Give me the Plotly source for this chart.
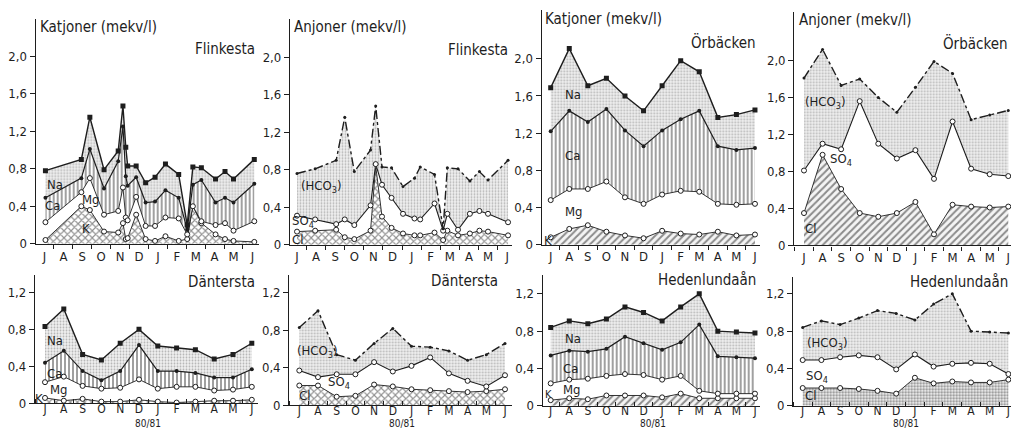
import plotly.graph_objects as go

W, H = 1011, 438
MONTHS = ["J", "A", "S", "O", "N", "D", "J", "F", "M", "A", "M", "J"]
MONTH_POS = list(range(12))
YTICKS_TOP = [0, 0.4, 0.8, 1.2, 1.6, 2.0]
YTICKS_BOT = [0, 0.4, 0.8, 1.2]

# ---------------- Flinkesta (irregular sampling dates, month index) ----------------
FLK_CAT_T = [0.05, 1.95, 2.4, 3.15, 3.9, 4.15, 4.3, 4.4, 4.85, 5.35, 5.85, 6.4, 7.1, 7.55, 7.85, 8.3, 9.05, 9.55, 10.0, 11.1]
FLK_CAT_TOTAL = [0.78, 0.90, 1.35, 0.79, 0.99, 1.47, 1.03, 0.83, 0.83, 0.65, 0.71, 0.85, 0.74, 0.20, 0.82, 0.81, 0.69, 0.77, 0.69, 0.90]
FLK_CAT_CA = [0.49, 0.70, 1.01, 0.59, 0.88, 1.25, 0.72, 0.62, 0.71, 0.44, 0.45, 0.57, 0.49, 0.15, 0.63, 0.68, 0.44, 0.49, 0.44, 0.64]
FLK_CAT_MG = [0.23, 0.55, 0.70, 0.31, 0.35, 0.60, 0.28, 0.25, 0.50, 0.19, 0.19, 0.28, 0.27, 0.10, 0.40, 0.24, 0.20, 0.22, 0.14, 0.24]
FLK_CAT_K = [0.04, 0.40, 0.36, 0.13, 0.12, 0.22, 0.05, 0.06, 0.31, 0.05, 0.03, 0.08, 0.03, 0.05, 0.40, 0.22, 0.10, 0.05, 0.03, 0.02]

FLK_AN_T = [0.0, 0.95, 2.05, 2.5, 3.0, 3.85, 4.12, 4.45, 4.95, 5.55, 6.15, 6.45, 7.2, 7.65, 7.87, 8.43, 9.05, 9.55, 10.0, 11.05]
FLK_AN_TOTAL = [0.76, 0.81, 0.90, 1.36, 0.78, 1.01, 1.48, 0.83, 0.82, 0.62, 0.71, 0.83, 0.75, 0.17, 0.82, 0.81, 0.68, 0.78, 0.69, 0.90]
FLK_AN_SO4 = [0.31, 0.27, 0.22, 0.27, 0.21, 0.42, 0.86, 0.64, 0.50, 0.33, 0.28, 0.27, 0.44, 0.15, 0.33, 0.16, 0.33, 0.36, 0.33, 0.24]
FLK_AN_CL = [0.14, 0.15, 0.16, 0.08, 0.06, 0.15, 0.84, 0.30, 0.18, 0.12, 0.10, 0.10, 0.13, 0.05, 0.15, 0.10, 0.12, 0.15, 0.14, 0.10]

# ---------------- Örbäcken (monthly) ----------------
ORB_CAT_TOTAL = [1.69, 2.11, 1.71, 1.79, 1.60, 1.44, 1.71, 1.98, 1.86, 1.37, 1.40, 1.45]
ORB_CAT_CA = [1.22, 1.44, 1.32, 1.46, 1.23, 1.06, 1.23, 1.35, 1.44, 1.06, 1.02, 1.04]
ORB_CAT_MG = [0.48, 0.60, 0.60, 0.68, 0.51, 0.44, 0.54, 0.58, 0.57, 0.44, 0.43, 0.44]
ORB_CAT_K = [0.08, 0.17, 0.21, 0.14, 0.10, 0.07, 0.15, 0.12, 0.11, 0.14, 0.10, 0.11]

ORB_AN_TOTAL = [1.81, 2.12, 1.73, 1.80, 1.60, 1.44, 1.71, 1.99, 1.86, 1.36, 1.41, 1.46]
ORB_AN_SO4 = [0.81, 1.10, 1.04, 1.56, 1.10, 0.94, 1.03, 0.72, 1.34, 0.83, 0.77, 0.75]
ORB_AN_CL = [0.35, 0.98, 0.61, 0.35, 0.31, 0.35, 0.47, 0.12, 0.44, 0.42, 0.41, 0.42]

# ---------------- Däntersta (monthly) ----------------
DAN_CAT_TOTAL = [0.83, 1.02, 0.53, 0.47, 0.65, 0.80, 0.62, 0.60, 0.58, 0.48, 0.53, 0.65]
DAN_CAT_CA = [0.44, 0.57, 0.35, 0.25, 0.35, 0.63, 0.35, 0.35, 0.33, 0.28, 0.28, 0.37]
DAN_CAT_MG = [0.23, 0.29, 0.19, 0.16, 0.17, 0.26, 0.16, 0.18, 0.18, 0.14, 0.15, 0.18]
DAN_CAT_K = [0.06, 0.03, 0.05, 0.02, 0.02, 0.04, 0.02, 0.01, 0.02, 0.03, 0.03, 0.04]

DAN_AN_TOTAL = [0.83, 1.01, 0.54, 0.48, 0.66, 0.82, 0.63, 0.62, 0.58, 0.48, 0.54, 0.66]
DAN_AN_SO4 = [0.37, 0.30, 0.33, 0.33, 0.46, 0.36, 0.42, 0.51, 0.34, 0.26, 0.20, 0.32]
DAN_AN_CL = [0.21, 0.21, 0.09, 0.10, 0.22, 0.20, 0.17, 0.16, 0.15, 0.14, 0.15, 0.17]

# ---------------- Hedenlundaån (monthly) ----------------
HED_CAT_TOTAL = [0.84, 0.91, 0.88, 0.93, 1.06, 1.00, 0.91, 1.06, 1.20, 0.80, 0.79, 0.78]
HED_CAT_CA = [0.54, 0.59, 0.58, 0.61, 0.74, 0.67, 0.60, 0.68, 0.87, 0.53, 0.52, 0.51]
HED_CAT_MG = [0.24, 0.28, 0.29, 0.32, 0.34, 0.33, 0.28, 0.32, 0.16, 0.13, 0.13, 0.13]
HED_CAT_K = [0.06, 0.08, 0.07, 0.11, 0.11, 0.11, 0.09, 0.13, 0.08, 0.08, 0.08, 0.08]

HED_AN_TOTAL = [0.84, 0.91, 0.87, 0.94, 1.02, 0.99, 0.92, 1.09, 1.20, 0.80, 0.79, 0.78]
HED_AN_SO4 = [0.49, 0.49, 0.52, 0.54, 0.52, 0.39, 0.55, 0.42, 0.45, 0.46, 0.45, 0.34]
HED_AN_CL = [0.19, 0.19, 0.19, 0.18, 0.16, 0.13, 0.30, 0.24, 0.26, 0.25, 0.25, 0.28]

SEASON = "80/81"

FONT = "DejaVu Sans Condensed, Liberation Sans Narrow, Roboto Condensed, DejaVu Sans, sans-serif"
INK = "#1e1e1e"

# panel pixel geometry: (axis_left, x_of_first_month, px_per_month, right, y_zero_px, px_per_unit, axis_top_px)
PANELS = [
    (35.7, 44.5, 18.9, 258.5, 248.3, 95.5, 19),
    (290.0, 297.0, 19.1, 512.0, 249.3, 95.5, 19),
    (541.7, 550.7, 18.57, 760.0, 249.3, 94.7, 10),
    (794.3, 804.0, 18.57, 1011.0, 250.0, 94.2, 12),
    (35.0, 45.0, 18.8, 258.0, 411.0, 94.4, 280),
    (289.3, 299.3, 18.7, 512.0, 412.7, 95.3, 280),
    (542.7, 550.7, 18.57, 760.0, 413.3, 95.0, 280),
    (793.3, 802.7, 18.7, 1011.0, 413.3, 95.0, 282),
]

fig = go.Figure()

STIPPLE = dict(shape=".", fgcolor="#7a7a7a", bgcolor="#efefef", size=3, solidity=0.3)
VHATCH = dict(shape="|", fgcolor="#111111", bgcolor="white", size=4, solidity=0.4)
XHATCH = dict(shape="x", fgcolor="#222222", bgcolor="white", size=5, solidity=0.4)
DHATCH = dict(shape="/", fgcolor="#222222", bgcolor="#f4f4f4", size=5, solidity=0.4)
DOTS = dict(shape=".", fgcolor="#222222", bgcolor="#f4f4f4", size=3, solidity=0.45)

OPEN = dict(symbol="circle", size=5, color="white", line=dict(color=INK, width=1))


def add_layer(i, x, y, fill, pattern, marker, dash="solid", width=1.2):
    kw = dict(x=x, y=y, mode="lines+markers", xaxis=f"x{i}", yaxis=f"y{i}",
              line=dict(color=INK, width=width, dash=dash), marker=marker,
              showlegend=False, hoverinfo="x+y", fill=fill)
    if pattern is None:
        kw["fillcolor"] = "rgba(255,255,255,0)"
    else:
        kw["fillpattern"] = pattern
        kw["fillcolor"] = pattern["bgcolor"]
    fig.add_trace(go.Scatter(**kw))


def cations(i, x, k, mg, ca, tot, kpat):
    add_layer(i, x, k, "tozeroy", kpat, OPEN, width=0.9)
    add_layer(i, x, mg, "tonexty", None, OPEN, width=0.9)
    add_layer(i, x, ca, "tonexty", VHATCH, dict(symbol="circle", size=4, color=INK))
    add_layer(i, x, tot, "tonexty", STIPPLE, dict(symbol="square", size=5, color=INK), width=1.4)


def anions(i, x, cl, so4, tot, clpat):
    add_layer(i, x, cl, "tozeroy", clpat, OPEN, width=0.9)
    add_layer(i, x, so4, "tonexty", None, OPEN, width=1.1)
    add_layer(i, x, tot, "tonexty", STIPPLE, dict(symbol="circle", size=3, color=INK), dash="dashdot", width=1.4)


cations(1, FLK_CAT_T, FLK_CAT_K, FLK_CAT_MG, FLK_CAT_CA, FLK_CAT_TOTAL, XHATCH)
anions(2, FLK_AN_T, FLK_AN_CL, FLK_AN_SO4, FLK_AN_TOTAL, XHATCH)
cations(3, MONTH_POS, ORB_CAT_K, ORB_CAT_MG, ORB_CAT_CA, ORB_CAT_TOTAL, DHATCH)
anions(4, MONTH_POS, ORB_AN_CL, ORB_AN_SO4, ORB_AN_TOTAL, DHATCH)
cations(5, MONTH_POS, DAN_CAT_K, DAN_CAT_MG, DAN_CAT_CA, DAN_CAT_TOTAL, XHATCH)
anions(6, MONTH_POS, DAN_AN_CL, DAN_AN_SO4, DAN_AN_TOTAL, XHATCH)
cations(7, MONTH_POS, HED_CAT_K, HED_CAT_MG, HED_CAT_CA, HED_CAT_TOTAL, DHATCH)
anions(8, MONTH_POS, HED_AN_CL, HED_AN_SO4, HED_AN_TOTAL, DOTS)

layout = dict(width=W, height=H, margin=dict(l=0, r=0, t=0, b=0), autosize=False,
              paper_bgcolor="white", plot_bgcolor="rgba(0,0,0,0)",
              font=dict(family=FONT, color=INK, size=13))

for n, (left, x0, step, right, y0, ppu, ytop) in enumerate(PANELS, start=1):
    xr = [(left - x0) / step, (right - x0) / step]
    yr = [0, (y0 - ytop) / ppu]
    bottom_row = n > 4
    yticks = YTICKS_BOT if bottom_row else YTICKS_TOP
    layout[f"xaxis{n}"] = dict(
        domain=[left / W, min(right / W, 1.0)], range=xr, anchor=f"y{n}",
        showline=True, linecolor=INK, linewidth=1.3, showgrid=False, zeroline=False,
        tickmode="array", tickvals=MONTH_POS, ticktext=MONTHS, ticks="", ticklen=0,
        ticklabelstandoff=(-6 if bottom_row else 0),
        tickfont=dict(size=(12 if bottom_row else 13), family=FONT, color=INK),
        minor=dict(tickmode="array", tickvals=[m + 0.5 for m in range(-1, 12)],
                   ticks=("inside" if bottom_row else "outside"), ticklen=4,
                   tickcolor=INK, showgrid=False),
    )
    layout[f"yaxis{n}"] = dict(
        domain=[1 - y0 / H, 1 - ytop / H], range=yr, anchor=f"x{n}",
        showline=True, linecolor=INK, linewidth=1.3, showgrid=False, zeroline=False,
        tickmode="array", tickvals=yticks,
        ticktext=[("0" if v == 0 else f"{v:.1f}".replace(".", ",")) for v in yticks],
        ticks="outside", ticklen=5, tickcolor=INK,
        tickfont=dict(size=13, family=FONT, color=INK),
    )

fig.update_layout(**layout)


def text(x, y, s, size=13, anchor="left"):
    fig.add_annotation(x=x / W, y=1 - y / H, xref="paper", yref="paper", text=s,
                       showarrow=False, xanchor=anchor, yanchor="middle",
                       font=dict(size=size, family=FONT, color=INK))


# panel headings
text(38, 27, "Katjoner (mekv/l)", 15)
text(292, 28, "Anjoner (mekv/l)", 15)
text(543, 19, "Katjoner (mekv/l)", 15)
text(797, 20, "Anjoner (mekv/l)", 15)
text(257, 50, "Flinkesta", 15, "right")
text(510, 51, "Flinkesta", 15, "right")
text(758, 43, "Örbäcken", 15, "right")
text(1010, 44, "Örbäcken", 15, "right")
text(257, 287, "Däntersta", 15, "right")
text(500, 286, "Däntersta", 15, "right")
text(758, 285, "Hedenlundaån", 15, "right")
text(1010, 287, "Hedenlundaån", 15, "right")

# ion labels
for x, y, s in [(45, 188, "Na"), (43, 209, "Ca"), (80, 203, "Mg"), (80, 233, "K"),
                (299, 190, "(HCO<sub>3</sub>)"), (290, 226, "SO<sub>4</sub>"), (290, 244, "Cl"),
                (563, 96, "Na"), (563, 158, "Ca"), (563, 215, "Mg"), (542, 245, "K"),
                (803, 104, "(HCO<sub>3</sub>)"), (828, 162, "SO<sub>4</sub>"), (803, 233, "Cl"),
                (45, 347, "Na"), (45, 380, "Ca"), (48, 397, "Mg"), (33, 406, "K"),
                (295, 358, "(HCO<sub>3</sub>)"), (326, 390, "SO<sub>4</sub>"), (297, 403, "Cl"),
                (563, 345, "Na"), (561, 375, "Ca"), (561, 397, "Mg"),
                (805, 350, "(HCO<sub>3</sub>)"), (804, 383, "SO<sub>4</sub>"), (803, 403, "Cl")]:
    text(x, y, s, 13)
text(543, 402, "K", 11)

# season labels under bottom row (centred between D and J)
for n in range(5, 9):
    fig.add_annotation(x=5.5, y=0, xref=f"x{n}", yref="paper",
                       text=SEASON, showarrow=False, xanchor="center", yanchor="bottom",
                       borderpad=0, font=dict(size=10, family=FONT, color=INK))

fig.write_html("out.html")
